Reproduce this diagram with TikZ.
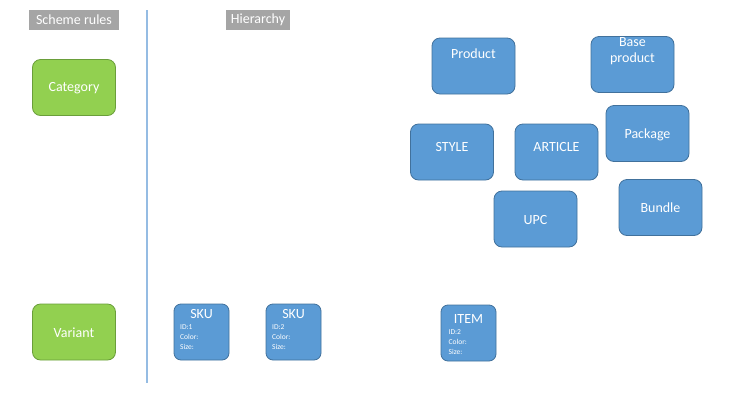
\documentclass[tikz,border=0pt]{standalone}
\usepackage{fontspec}
\setmainfont{Carlito}
\definecolor{bluefill}{HTML}{5B9BD5}
\definecolor{bluedraw}{HTML}{41719C}
\definecolor{greenfill}{HTML}{92D050}
\definecolor{greendraw}{HTML}{6A9E3A}
\definecolor{grayfill}{HTML}{A5A5A5}
\definecolor{divline}{HTML}{95BCE3}
\tikzset{
  bluebox/.style={draw=bluedraw, fill=bluefill, rounded corners=8pt, line width=0.8pt,
    minimum width=83pt, minimum height=56pt, inner sep=0pt, text=white,
    font=\fontsize{14}{16}\selectfont, align=center},
  greenbox/.style={bluebox, draw=greendraw, fill=greenfill},
  smallbox/.style={draw=bluedraw, fill=bluefill, rounded corners=7pt, line width=0.8pt,
    minimum width=55pt, minimum height=56pt, inner sep=0pt},
  graylabel/.style={fill=grayfill, text=white, minimum height=20pt, inner sep=0pt,
    font=\fontsize{14}{16}\selectfont},
  boxlbl/.style={text=white, font=\fontsize{14}{16}\selectfont, align=center, inner sep=0pt, anchor=center},
  skutitle/.style={text=white, font=\fontsize{14}{16}\selectfont, inner sep=0pt},
  skubody/.style={text=white, font=\fontsize{7.5}{10}\selectfont, align=left, inner sep=0pt, anchor=north west},
}
\begin{document}
\begin{tikzpicture}[x=1pt,y=-1pt]
\useasboundingbox (0,0) rectangle (740,416);
% headers
\node[graylabel, minimum width=90pt] (scheme) at (74,20) {Scheme rules};
\node[graylabel, minimum width=64pt] (hier) at (258,20) {Hierarchy};
% divider
\coordinate (divtop) at (147,10);
\coordinate (divbot) at (147,383);
\draw[divline, line width=1.1pt] (divtop) -- (divbot);
% scheme rules
\node[greenbox] (category) at (74,87.5) {};
\node[boxlbl] (categoryt) at (74,88) {Category};
\node[greenbox] (variant) at (74,332) {};
\node[boxlbl] (variantt) at (74,332.5) {Variant};
% hierarchy boxes
\node[bluebox] (product) at (473.5,66) {};
\node[boxlbl] (productt) at (473.5,53.5) {Product};
\node[bluebox] (baseproduct) at (632.5,64.5) {};
\node[boxlbl] (baseproductt) at (632.5,51.5) {Base\\product};
\node[bluebox] (style) at (452,152) {};
\node[boxlbl] (stylet) at (452,147.5) {STYLE};
\node[bluebox] (article) at (556.5,152) {};
\node[boxlbl] (articlet) at (556.5,147.5) {ARTICLE};
\node[bluebox] (package) at (647.5,133.5) {};
\node[boxlbl] (packaget) at (647.5,134.5) {Package};
\node[bluebox] (upc) at (535.5,219) {};
\node[boxlbl] (upct) at (535.5,220.5) {UPC};
\node[bluebox] (bundle) at (660.5,207.5) {};
\node[boxlbl] (bundlet) at (660.5,207.5) {Bundle};
% SKU boxes
\node[smallbox] (sku1) at (201.5,332) {};
\node[skutitle] (sku1t) at (201.5,314.5) {SKU};
\node[skubody] (sku1b) at (180,324.5) {ID:1\\Color:\\Size:};
\node[smallbox] (sku2) at (293.5,332) {};
\node[skutitle] (sku2t) at (293.5,314.5) {SKU};
\node[skubody] (sku2b) at (272,324.5) {ID:2\\Color:\\Size:};
\node[smallbox] (item) at (468.5,333) {};
\node[skutitle] (itemt) at (468.5,319.5) {ITEM};
\node[skubody] (itemb) at (448.5,329) {ID:2\\Color:\\Size:};
\end{tikzpicture}
\end{document}
